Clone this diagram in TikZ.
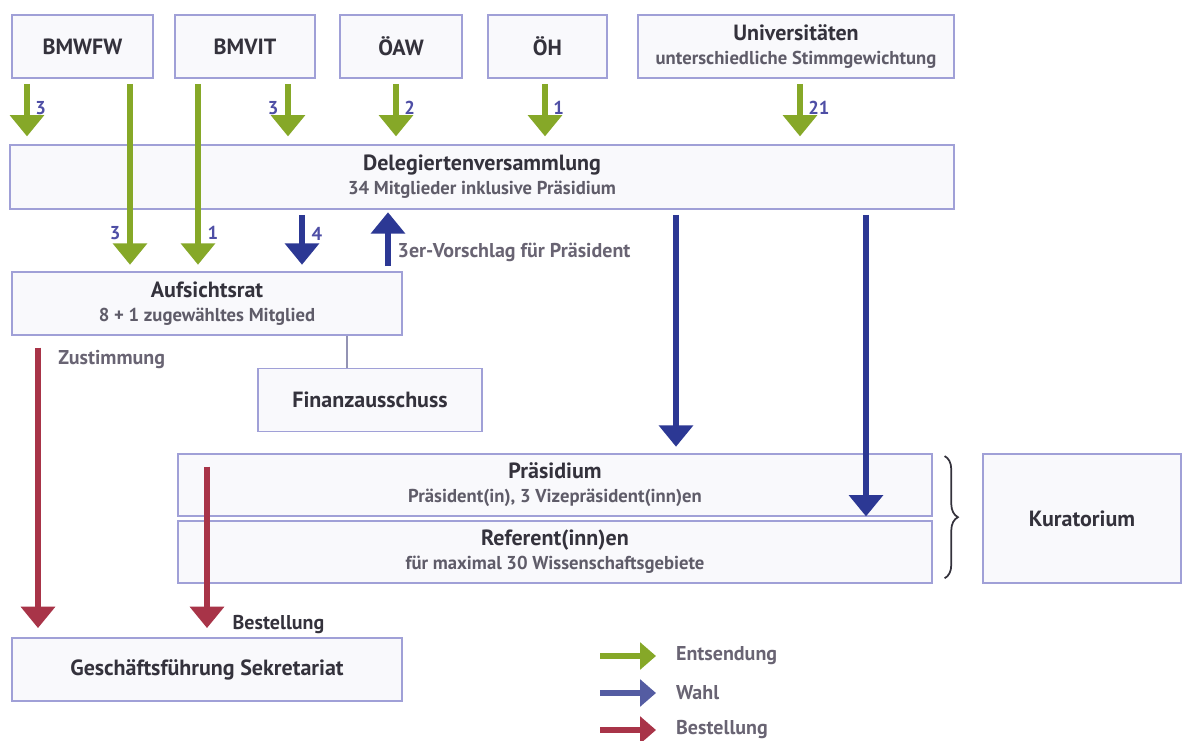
\documentclass[tikz,border=0pt]{standalone}
\usepackage{fontspec}
\setmainfont{PT Sans}
\usetikzlibrary{arrows.meta,decorations.pathreplacing}
\definecolor{boxline}{RGB}{160,160,215}
\definecolor{boxfill}{RGB}{249,249,252}
\definecolor{txt}{RGB}{52,50,60}
\definecolor{subtxt}{RGB}{95,92,105}
\definecolor{agreen}{RGB}{134,168,40}
\definecolor{ablue}{RGB}{44,56,148}
\definecolor{lblue}{RGB}{84,92,162}
\definecolor{ared}{RGB}{168,52,72}
\definecolor{numc}{RGB}{78,78,165}
\definecolor{labc}{RGB}{105,100,115}
\begin{document}
\begin{tikzpicture}[x=0.75pt,y=-0.75pt,
  box/.style={draw=boxline,fill=boxfill,line width=0.9pt,inner sep=0pt,align=center,text=txt,
     font=\fontsize{16.5}{19}\selectfont\bfseries},
  flow/.style={line width=4.5pt,-{Triangle[width=25pt,length=16pt]},shorten <=4pt},
  gflow/.style={flow,draw=agreen},
  bflow/.style={flow,draw=ablue},
  rflow/.style={flow,draw=ared},
  lflow/.style={line width=4.2pt,-{Triangle[width=20pt,length=12pt]}},
  num/.style={text=numc,font=\fontsize{14}{16}\selectfont\bfseries,inner sep=1pt},
  lab/.style={text=labc,font=\fontsize{15}{17}\selectfont\bfseries,inner sep=1pt,anchor=west}
]
\useasboundingbox (0,0) rectangle (1182,740);
\newcommand{\subl}[1]{\\[-1pt]{\fontsize{14}{16}\selectfont\color{subtxt}#1}}
% boxes
\node[box,minimum width=105.75pt,minimum height=47.25pt] (bmwfw) at (82.5,46.5) {BMWFW};
\node[box,minimum width=105pt,minimum height=47.25pt] (bmvit) at (245,46.5) {BMVIT};
\node[box,minimum width=91.5pt,minimum height=47.25pt] (oaw) at (401,46.5) {ÖAW};
\node[box,minimum width=89.25pt,minimum height=47.25pt] (oh) at (547.5,46.5) {ÖH};
\node[box,minimum width=237pt,minimum height=47.25pt] (uni) at (796,46.5) {Universitäten\subl{unterschiedliche Stimmgewichtung}};
\node[box,minimum width=708pt,minimum height=48pt] (dv) at (482,177) {Delegiertenversammlung\subl{34 Mitglieder inklusive Präsidium}};
\node[box,minimum width=292.5pt,minimum height=47.25pt] (ar) at (207,303.5) {Aufsichtsrat\subl{8 + 1 zugewähltes Mitglied}};
\node[box,minimum width=168pt,minimum height=47.25pt] (fa) at (370,400) {Finanzausschuss};
\node[box,minimum width=565.5pt,minimum height=46.5pt] (pr) at (555,485) {Präsidium\subl{Präsident(in), 3 Vizepräsident(inn)en}};
\node[box,minimum width=565.5pt,minimum height=46.5pt] (rf) at (555,552) {Referent(inn)en\subl{für maximal 30 Wissenschaftsgebiete}};
\node[box,minimum width=148.5pt,minimum height=96.75pt] (ku) at (1082,518.5) {Kuratorium};
\node[box,minimum width=292.5pt,minimum height=47.25pt] (gf) at (207,669.5) {Geschäftsführung Sekretariat};
% x positions
\foreach \xx in {27,38,130,198,207,288,302,347,388,396,545,676,800,866}{\coordinate (x\xx) at (\xx,0);}
% connector
\draw[boxline!60!gray,line width=0.8pt] (ar.south -| x347) -- (fa.north -| x347);
% brace
\coordinate (bt) at ([xshift=9pt,yshift=-2pt]pr.north east);
\coordinate (bb) at ([xshift=9pt,yshift=4pt]rf.south east);
\draw[txt,line width=1.3pt,decorate,decoration={brace,amplitude=10pt}] (bt) -- (bb);
% green arrows
\draw[gflow,shorten >=6pt] (bmwfw.south -| x27) -- (dv.north -| x27) node[num,pos=0.45,right=3pt] {3};
\draw[gflow,shorten >=5pt] (bmwfw.south -| x130) -- (ar.north -| x130) node[num,pos=0.8,left=4pt] {3};
\draw[gflow,shorten >=5pt] (bmvit.south -| x198) -- (ar.north -| x198) node[num,pos=0.8,right=4pt] {1};
\draw[gflow,shorten >=6pt] (bmvit.south -| x288) -- (dv.north -| x288) node[num,pos=0.45,left=4pt] {3};
\draw[gflow,shorten >=6pt] (oaw.south -| x396) -- (dv.north -| x396) node[num,pos=0.45,right=3pt] {2};
\draw[gflow,shorten >=6pt] (oh.south -| x545) -- (dv.north -| x545) node[num,pos=0.45,right=3pt] {1};
\draw[gflow,shorten >=6pt] (uni.south -| x800) -- (dv.north -| x800) node[num,pos=0.45,right=3pt] {21};
% blue arrows
\draw[bflow,shorten >=5pt] (dv.south -| x302) -- (ar.north -| x302) node[num,pos=0.4,right=4pt] {4};
\draw[bflow,shorten >=2pt] (ar.north -| x388) -- (dv.south -| x388) node[lab,pos=0.3,right=4pt,text=labc] {3er-Vorschlag für Präsident};
\draw[bflow,shorten >=5pt] (dv.south -| x676) -- (pr.north -| x676);
\draw[bflow,shorten >=3pt] (dv.south -| x866) -- (rf.north -| x866);
% red arrows
\draw[rflow,shorten >=7pt,shorten <=9pt] (ar.south -| x38) -- (gf.north -| x38) node[lab,pos=0.08,right=12pt] {Zustimmung};
\draw[rflow,shorten >=7pt,shorten <=10pt] (pr.north -| x207) -- (gf.north -| x207) node[lab,pos=0.93,right=16pt,text=txt] {Bestellung};
% legend
\coordinate (l1a) at (600,656); \coordinate (l1b) at (656,656);
\coordinate (l2a) at (600,693); \coordinate (l2b) at (656,693);
\coordinate (l3a) at (600,730); \coordinate (l3b) at (656,730);
\draw[lflow,agreen] (l1a) -- (l1b) node[lab,right=12pt] {Entsendung};
\draw[lflow,lblue] (l2a) -- (l2b) node[lab,right=12pt] {Wahl};
\draw[lflow,ared] (l3a) -- (l3b) node[lab,right=12pt] {Bestellung};
\end{tikzpicture}
\end{document}
